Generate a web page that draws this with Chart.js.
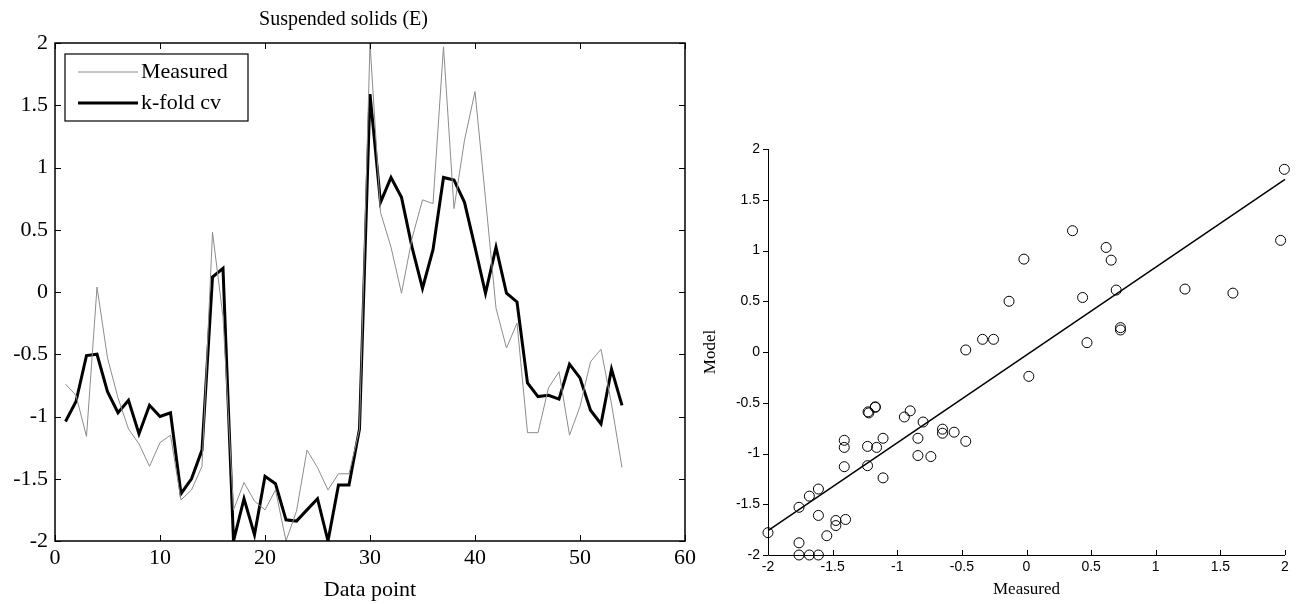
<!DOCTYPE html>
<html>
<head>
<meta charset="utf-8">
<script src="https://cdn.jsdelivr.net/npm/chart.js"></script>
<style>
  body { margin: 0; background: #fff; }
  #wrap { position: relative; width: 1298px; height: 604px; }
  canvas { position: absolute; top: 0; }
  #series { left: 0; }
  #scatter { left: 700px; }
</style>
</head>
<body>
<div id="wrap">
  <canvas id="series" width="700" height="604"></canvas>
  <canvas id="scatter" width="598" height="604"></canvas>
</div>
<script>
// left panel: data point index vs. values
var dataPoint = [1,2,3,4,5,6,7,8,9,10,11,12,13,14,15,16,17,18,19,20,21,22,23,24,25,26,27,
                 28,29,30,31,32,33,34,35,36,37,38,39,40,41,42,43,44,45,46,47,48,49,50,51,52,53,54];
var measured = [-0.74,-0.83,-1.16,0.04,-0.53,-0.85,-1.10,-1.22,-1.40,-1.21,-1.15,-1.67,-1.59,-1.40,
                0.48,-0.20,-1.75,-1.53,-1.68,-1.75,-1.59,-2.00,-1.76,-1.27,-1.41,-1.59,-1.46,-1.46,
                -1.10,2.00,0.64,0.36,-0.01,0.43,0.74,0.71,1.97,0.67,1.22,1.61,0.75,-0.13,-0.45,-0.25,
                -1.13,-1.13,-0.77,-0.64,-1.15,-0.92,-0.56,-0.46,-0.90,-1.41];
var kfold = [-1.04,-0.88,-0.51,-0.50,-0.80,-0.97,-0.87,-1.14,-0.91,-1.00,-0.97,-1.62,-1.50,-1.27,
             0.12,0.19,-2.00,-1.66,-1.95,-1.48,-1.54,-1.83,-1.84,-1.75,-1.66,-2.00,-1.55,-1.55,
             -1.10,1.59,0.72,0.92,0.76,0.36,0.03,0.34,0.92,0.90,0.72,0.36,-0.01,0.36,-0.01,-0.08,
             -0.73,-0.84,-0.83,-0.86,-0.58,-0.69,-0.95,-1.06,-0.62,-0.91];

// right panel: measured vs model scatter + fitted line
var scatterMeasured = [-2.00,-1.76,-1.76,-1.76,-1.68,-1.61,-1.68,-1.61,-1.61,-1.545,-1.475,-1.475,-1.40,
                       -1.41,-1.41,-1.41,-1.226,-1.22,-1.17,-1.17,-1.23,-1.16,-1.23,-1.11,-1.11,-0.945,-0.90,
                       -0.80,-0.84,-0.84,-0.74,-0.65,-0.65,-0.56,-0.47,-0.47,-0.34,-0.255,-0.135,
                       -0.02,0.018,0.356,0.434,0.468,0.616,0.655,0.694,0.727,0.727,1.226,1.597,1.966,1.995];
var scatterModel = [-1.78,-1.53,-1.88,-2.00,-2.00,-2.00,-1.42,-1.35,-1.61,-1.81,-1.66,-1.71,-1.65,
                    -0.87,-0.94,-1.13,-0.59,-0.60,-0.54,-0.545,-0.93,-0.94,-1.12,-0.85,-1.24,-0.64,-0.58,
                    -0.69,-0.85,-1.02,-1.03,-0.76,-0.80,-0.79,-0.88,0.02,0.125,0.125,0.50,
                    0.915,-0.24,1.195,0.537,0.092,1.03,0.905,0.61,0.24,0.217,0.62,0.58,1.10,1.80];
var fitX = [-2, 2];
var fitY = [-1.76, 1.70];

var serif = "'Liberation Serif', 'Times New Roman', serif";
var sans = "'Liberation Sans', Arial, sans-serif";

function pairs(xs, ys) {
    return xs.map(function (x, i) { return {x: x, y: ys[i]}; });
}
function plain(v) { return String(v); }

// box + inward ticks + legend for the left panel
var boxPlugin = {
    id: 'boxPlugin',
    afterDraw: function (chart) {
        var ctx = chart.ctx, a = chart.chartArea;
        var sx = chart.scales.x, sy = chart.scales.y;
        ctx.save();
        ctx.strokeStyle = '#000';
        ctx.lineWidth = 1.5;
        ctx.strokeRect(a.left, a.top, a.right - a.left, a.bottom - a.top);
        ctx.lineWidth = 1;
        ctx.beginPath();
        sx.ticks.forEach(function (t) {
            var px = Math.round(sx.getPixelForValue(t.value)) + 0.5;
            ctx.moveTo(px, a.bottom); ctx.lineTo(px, a.bottom - 6);
            ctx.moveTo(px, a.top); ctx.lineTo(px, a.top + 6);
        });
        sy.ticks.forEach(function (t) {
            var py = Math.round(sy.getPixelForValue(t.value)) + 0.5;
            ctx.moveTo(a.left, py); ctx.lineTo(a.left + 6, py);
            ctx.moveTo(a.right, py); ctx.lineTo(a.right - 6, py);
        });
        ctx.stroke();

        // legend
        var lx = a.left + 10, ly = a.top + 11, lw = 183, lh = 67;
        ctx.fillStyle = '#fff';
        ctx.fillRect(lx, ly, lw, lh);
        ctx.lineWidth = 1.2;
        ctx.strokeStyle = '#000';
        ctx.strokeRect(lx, ly, lw, lh);
        ctx.font = '22px ' + serif;
        ctx.textBaseline = 'middle';
        ctx.fillStyle = '#000';
        chart.data.datasets.forEach(function (ds, i) {
            var yy = ly + 18 + i * 31;
            ctx.strokeStyle = ds.borderColor;
            ctx.lineWidth = ds.borderWidth;
            ctx.beginPath();
            ctx.moveTo(lx + 13, yy); ctx.lineTo(lx + 73, yy);
            ctx.stroke();
            ctx.fillText(ds.label, lx + 76, yy);
        });
        ctx.restore();
    }
};

new Chart(document.getElementById('series'), {
    type: 'line',
    data: {
        datasets: [
            {
                label: 'Measured',
                data: pairs(dataPoint, measured),
                borderColor: '#8c8c8c',
                borderWidth: 1,
                pointRadius: 0,
                tension: 0
            },
            {
                label: 'k-fold cv',
                data: pairs(dataPoint, kfold),
                borderColor: '#000',
                borderWidth: 3,
                pointRadius: 0,
                tension: 0
            }
        ]
    },
    options: {
        responsive: false,
        animation: false,
        layout: {padding: {top: 0, right: 13, bottom: 0, left: 0}},
        plugins: {
            legend: {display: false},
            tooltip: {enabled: false},
            title: {
                display: true,
                text: 'Suspended solids (E)',
                color: '#000',
                font: {family: serif, size: 20, weight: 'normal'},
                padding: {top: 8, bottom: 11}
            }
        },
        scales: {
            x: {
                type: 'linear',
                min: 0, max: 60,
                ticks: {stepSize: 10, color: '#000', font: {family: serif, size: 22}, padding: 4, maxRotation: 0, callback: plain},
                grid: {display: false, drawTicks: false},
                border: {display: false},
                title: {display: true, text: 'Data point', color: '#000', font: {family: serif, size: 22}, padding: {top: 0, bottom: 1}},
                afterFit: function (s) { s.height = 63; }
            },
            y: {
                min: -2, max: 2,
                ticks: {stepSize: 0.5, color: '#000', font: {family: serif, size: 22}, padding: 7, callback: plain},
                grid: {display: false, drawTicks: false},
                border: {display: false},
                afterFit: function (s) { s.width = 55; }
            }
        }
    },
    plugins: [boxPlugin]
});

// ticks for the right panel: y outward, x inward
var axisTicks = {
    id: 'axisTicks',
    afterDraw: function (chart) {
        var ctx = chart.ctx, a = chart.chartArea;
        var sx = chart.scales.x, sy = chart.scales.y;
        ctx.save();
        ctx.strokeStyle = '#000';
        ctx.lineWidth = 1;
        ctx.beginPath();
        ctx.moveTo(a.left + 0.5, a.top); ctx.lineTo(a.left + 0.5, a.bottom + 0.5);
        ctx.lineTo(a.right, a.bottom + 0.5);
        sx.ticks.forEach(function (t) {
            var px = Math.round(sx.getPixelForValue(t.value)) + 0.5;
            ctx.moveTo(px, a.bottom); ctx.lineTo(px, a.bottom - 5);
        });
        sy.ticks.forEach(function (t) {
            var py = Math.round(sy.getPixelForValue(t.value)) + 0.5;
            ctx.moveTo(a.left, py); ctx.lineTo(a.left - 5, py);
        });
        ctx.stroke();
        ctx.restore();
    }
};

new Chart(document.getElementById('scatter'), {
    type: 'scatter',
    data: {
        datasets: [
            {
                label: 'points',
                data: pairs(scatterMeasured, scatterModel),
                pointStyle: 'circle',
                pointRadius: 5,
                pointBorderWidth: 1,
                borderColor: '#000',
                backgroundColor: 'rgba(0,0,0,0)',
                clip: false
            },
            {
                type: 'line',
                label: 'fit',
                data: pairs(fitX, fitY),
                borderColor: '#000',
                borderWidth: 1.5,
                pointRadius: 0,
                clip: false
            }
        ]
    },
    options: {
        responsive: false,
        animation: false,
        layout: {padding: {top: 149, right: 13, bottom: 0, left: 0}},
        plugins: {legend: {display: false}, tooltip: {enabled: false}},
        scales: {
            x: {
                type: 'linear',
                min: -2, max: 2,
                ticks: {stepSize: 0.5, color: '#000', font: {family: sans, size: 14}, padding: 4, maxRotation: 0, callback: plain},
                grid: {display: false, drawTicks: false},
                border: {display: false},
                title: {display: true, text: 'Measured', color: '#000', font: {family: serif, size: 17}, padding: {top: 0, bottom: 4}},
                afterFit: function (s) { s.height = 49; }
            },
            y: {
                min: -2, max: 2,
                ticks: {stepSize: 0.5, color: '#000', font: {family: sans, size: 14}, padding: 8, callback: plain},
                grid: {display: false, drawTicks: false},
                border: {display: false},
                title: {display: true, text: 'Model', color: '#000', font: {family: serif, size: 17}, padding: {top: 0, bottom: 0}},
                afterFit: function (s) { s.width = 68; }
            }
        }
    },
    plugins: [axisTicks]
});
</script>
</body>
</html>
